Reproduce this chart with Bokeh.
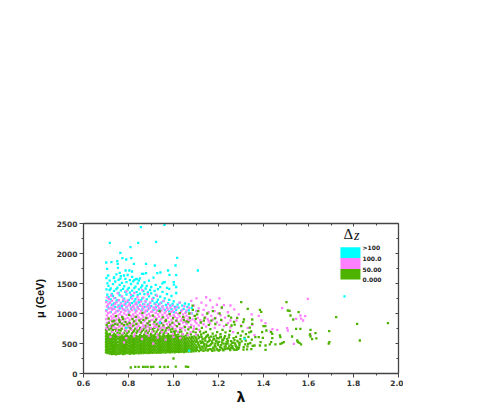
from bokeh.plotting import figure
from bokeh.models import LinearAxis, FixedTicker, Range1d, PrintfTickFormatter
from bokeh.core.properties import value
from bokeh.embed import file_html
from bokeh.resources import INLINE

# value tables: lambda -> list of mu, plus isolated (lambda, mu) points
green_columns = {
0.700:[352,395,438,483,528,571,618,668,721],
0.703:[371,412,455,502,549,596,640,694,812],
0.707:[338,384,431,472,517,560,612,655,768],
0.712:[362,409,447,498,544,589,633,733,845],
0.717:[330,377,420,466,511,566,607,661],
0.722:[349,401,452,491,537,581,626,751,790],
0.726:[322,368,417,461,508,552,603,699],
0.731:[345,393,440,485,531,578,637,727,801],
0.736:[328,373,424,469,520,569,615,664,880],
0.741:[352,398,445,494,542,593,644,745,828],
0.745:[318,366,413,458,505,557,609,709],
0.751:[341,388,436,479,526,584,629,683,815],
0.756:[326,375,427,474,523,574,621,725],
0.761:[347,403,449,499,547,598,670,862],
0.765:[333,380,419,464,513,563,611,714],
0.770:[356,396,443,488,535,587,635,747,830],
0.776:[325,369,415,460,507,554,604,653,905],
0.781:[344,391,438,482,529,579,676,808],
0.785:[330,378,425,471,519,567,617,719],
0.790:[352,400,450,495,541,592,642,756],
0.795:[338,383,429,476,525,572,622,673,819],
0.801:[359,407,454,501,548,597,700],
0.805:[328,372,418,463,510,558,608,775,842],
0.810:[350,394,442,487,533,583,632,741],
0.815:[335,379,426,473,521,570,619,669],
0.821:[355,402,448,496,545,594,695,798],
0.825:[332,374,421,467,516,561,613,715,870],
0.830:[351,397,444,492,539,586,638,749],
0.835:[340,386,433,480,527,575,624,677,825],
0.840:[361,408,456,504,551,600,704],
0.845:[336,381,428,475,522,568,616,720],
0.851:[358,404,451,497,546,591,641,754],
0.855:[342,387,434,478,530,577,627,680,850],
0.860:[363,410,457,503,552,601,707],
0.866:[339,382,430,477,524,573,623,729,895],
0.870:[360,405,453,500,550,599,649,764],
0.875:[344,389,435,481,532,580,631,684,792],
0.880:[365,411,459,506,555,606,713],
0.885:[341,385,432,479,526,576,628,678,834],
0.890:[362,406,455,502,553,602,705],
0.895:[346,390,437,484,534,582,634,750,805],
0.900:[367,414,460,509,559,610,660],
0.906:[343,388,436,482,531,579,630,739],
0.911:[364,412,458,507,556,605,708],
0.915:[348,392,439,486,536,585,636,761,858],
0.920:[370,416,462,512,562,611,665],
0.925:[345,391,441,489,538,590,698,820],
0.931:[366,415,463,514,564,614,730],
0.936:[350,394,443,490,540,588,647,787],
0.941:[372,418,465,515,565,620,675],
0.945:[347,393,440,487,537,586,696,838],
0.951:[369,417,464,513,563,616,726],
0.955:[352,396,446,493,543,595,650,800],
0.960:[374,420,468,518,570,625,680],
0.965:[349,395,444,491,541,592,717,878],
0.971:[371,419,466,516,567,622,755],
0.976:[355,398,447,494,546,598,659],
0.980:[376,422,470,520,572,628,769],
0.985:[351,397,445,492,542,597,732,812],
0.990:[373,421,469,517,569,629,695],
0.995:[357,400,449,496,549,603,743,848],
1.001:[378,424,472,523,574,634,703],
1.005:[354,399,448,497,547,606,674],
1.010:[375,423,471,522,576,640,711],
1.015:[359,403,451,500,553,612,790],
1.021:[380,427,475,526,581,648],
1.025:[356,401,450,498,551,609,688,826],
1.030:[377,425,474,524,579,735],
1.035:[361,405,453,503,558,620,697],
1.040:[382,428,477,530,587,655],
1.046:[358,402,452,501,555,616,892],
1.051:[379,426,476,527,584,772],
1.055:[363,407,456,507,564,630],
1.061:[384,431,481,535,595,670],
1.066:[365,408,458,510,569,735,855],
1.071:[386,433,483,538,601],
1.077:[367,411,462,517,578,652,770],
1.082:[388,436,489,546,612],
1.088:[369,415,466,522,585,698],
1.093:[392,440,493,552,620],
1.099:[372,418,470,528,596,680,910],
}
green_points = [
(1.104,395),(1.106,444),(1.109,498),(1.103,560),(1.108,634),(1.102,745),(1.113,374),(1.117,423),(1.112,476),(1.119,537),
(1.115,608),(1.118,700),(1.124,401),(1.127,449),(1.122,505),(1.129,571),(1.123,650),(1.126,762),(1.133,376),(1.137,455),
(1.131,516),(1.139,586),(1.134,675),(1.143,427),(1.146,484),(1.141,550),(1.148,627),(1.144,695),(1.152,380),(1.156,460),
(1.151,523),(1.158,597),(1.153,642),(1.162,405),(1.167,490),(1.161,558),(1.164,740),(1.172,378),(1.176,432),(1.171,533),
(1.178,613),(1.174,664),(1.183,466),(1.186,497),(1.181,571),(1.188,632),(1.184,920),(1.192,412),(1.197,506),(1.191,544),
(1.194,690),(1.202,383),(1.207,441),(1.201,586),(1.209,655),(1.212,472),(1.216,517),(1.211,604),(1.218,728),(1.222,386),
(1.227,447),(1.221,558),(1.229,623),(1.233,488),(1.236,528),(1.231,684),(1.239,573),(1.243,420),(1.247,453),(1.241,497),
(1.248,645),(1.252,390),(1.256,541),(1.251,712),(1.259,458),(1.263,424),(1.267,590),(1.261,510),(1.269,860),(1.272,393),
(1.276,467),(1.271,556),(1.278,610),(1.282,429),(1.286,672),(1.281,396),(1.289,520),(1.293,474),(1.297,572),(1.291,433),
(1.299,630),(1.303,535),(1.307,701),(1.301,790),(1.312,440),(1.316,592),(1.311,399),(1.318,484),(1.322,655),(1.327,402),
(1.321,549),(1.329,452),(1.333,612),(1.337,684),(1.331,493),(1.339,765),(1.346,405),(1.341,505),(1.348,566),(1.352,460),
(1.301,1189),(1.502,1189),(1.33,1078),(1.384,1061),(1.39,1028),(1.508,1050),(1.516,1045),(1.556,1022),
(1.52,967),(1.532,900),(1.723,939),(1.816,828),(1.953,839),(1.828,550),(1.692,706),(1.693,523),(1.69,500),(1.609,728),
(1.631,672),(1.609,617),(1.635,584),(1.616,572),(1.606,650),(1.564,745),(1.545,745),(1.527,617),(1.55,550),(1.56,511),
(1.567,484),(1.553,525),(1.473,634),(1.475,606),(1.49,523),(1.475,494),(1.483,506),(1.453,484),(1.434,689),(1.439,661),
(1.439,589),(1.434,523),(1.428,484),(1.409,467),(1.409,395),(1.387,523),(1.397,595),(1.4,789),(1.408,789),(1.413,717),
(1.394,689),(1.379,606),(1.364,606),(1.36,467),(1.384,467),(1.345,700),(1.35,828),(1.35,900),(1.313,900),(1.31,856),
(1.283,928),(1.258,800),(1.245,960),(1.215,1100),(1.175,1040),(1.205,1000),(1.15,1000),(1.135,880),(1.11,1040),(1.095,960),
(1.085,1130),(1.07,1000),(1.0,250),(0.81,100),(0.83,110),(0.845,112),(0.865,112),(0.875,110),(0.885,110),(0.90,108),(0.91,110),
(0.94,110),(0.96,108),(0.975,112),(1.01,115),(1.055,115),(1.065,112)]
green_extra = [
(1.103,418),(1.107,522),(1.111,585),(1.116,452),(1.121,391),(1.125,612),(1.128,532),(1.132,418),(1.136,492),(1.142,388),
(1.145,605),(1.149,455),(1.154,398),(1.157,540),(1.163,470),(1.166,615),(1.169,402),(1.173,505),(1.177,568),(1.179,420),
(1.182,385),(1.187,448),(1.189,535),(1.193,590),(1.196,392),(1.199,472),(1.203,528),(1.206,395),(1.208,615),(1.213,425),
(1.217,562),(1.219,400),(1.223,498),(1.226,592),(1.228,408),(1.232,452),(1.237,415),(1.242,540),(1.246,602),(1.249,412),
(1.254,480),(1.257,425),(1.262,455),(1.266,515),(1.268,402),(1.274,500),(1.279,448),(1.284,545),(1.288,410),(1.294,505),
(0.712,915),(0.728,868),(0.744,955),(0.758,892),(0.772,938),(0.787,862),(0.803,978),(0.818,905),(0.833,945),(0.848,885),
(0.862,1010),(0.879,925),(0.893,870),(0.908,965),(0.922,898),(0.938,1040),(0.952,935),(0.967,885),(0.983,990),(0.998,925),
(1.013,880),(1.028,1005),(1.043,945),(1.058,870),(1.073,925),(1.086,1060),(1.105,985),(1.121,850),(1.138,925),(1.157,810),
(1.168,880),(1.186,825),(1.212,895),(1.235,810),(1.256,930),(1.272,815)]

pink_columns = {
0.701:[760,905,1040,1190],0.704:[842,968,1118,1270],0.709:[790,931,1005,1150],0.713:[861,1081,1240],
0.718:[735,885,1020,1175],0.723:[816,951,1096,1300],0.727:[770,915,1060,1210],0.732:[851,986,1131],
0.737:[800,940,1076,1255],0.741:[871,1011,1161],0.746:[755,900,1036,1186],0.752:[831,966,1106,1335],
0.757:[780,921,1051,1221],0.761:[846,991,1126],0.767:[745,891,1026,1166],0.771:[826,961,1091,1285],
0.776:[796,936,1071,1231],0.781:[866,1001,1146],0.786:[766,911,1046,1196],0.791:[836,976,1116,1370],
0.796:[786,926,1066,1216],0.801:[856,996,1136],0.805:[751,896,1031,1171],0.811:[821,956,1101,1310],
0.816:[776,919,1056,1249],0.821:[849,983,1129],0.826:[811,946,1086,1345],0.831:[876,1016,1156],
0.835:[741,899,1039,1183],0.840:[829,969,1109,1275],0.845:[793,933,1073,1226],0.851:[863,1003,1143],
0.856:[769,909,1049,1199],0.861:[839,979,1119,1390],0.866:[803,943,1083,1263],0.871:[873,1013,1153],
0.876:[759,903,1043,1206],0.881:[833,973,1113],0.886:[783,923,1063,1321],0.891:[853,993,1133],
0.896:[816,956,1096,1179],0.901:[886,1026],0.906:[749,893,1033,1239],0.911:[823,963,1103],
0.916:[796,939,1079],0.921:[869,1009,1149],0.926:[773,913,1053,1296],0.931:[843,983,1123],
0.936:[809,949,1089],0.941:[879,1019,1169],0.946:[763,907,1047],0.951:[837,977,1117],
0.956:[799,937,1077,1211],0.961:[867,1007],0.966:[753,897,1037],0.971:[827,967,1107],
0.976:[787,927,1067,1156],0.981:[857,997],0.986:[819,959,1099],0.991:[889,1029],
0.996:[767,905,1045,1131],1.001:[835,975],1.006:[805,945,1081],1.011:[875,1015],
1.016:[781,921,1106],1.021:[851,991],1.027:[813,953,1181],1.033:[883,1023],
1.039:[757,917,1061],1.043:[847,987],1.048:[791,931,1121],1.053:[861,1011],
1.058:[826,966,1051],1.063:[896],1.068:[771,941,1096],1.074:[881],
1.079:[811,1001,1211],1.085:[901],1.091:[786,961,1131],1.096:[871],
1.102:[841,1041,1251],1.108:[926],1.112:[801,1086],1.119:[891],
1.124:[861,1181],1.129:[976],1.134:[821,1061],1.141:[941],1.145:[781,1136,1271],1.152:[906],
1.156:[871,1021],1.163:[836,1221],1.168:[961],1.174:[896,1101],1.183:[761,1041],1.188:[926],
1.193:[851,1146],1.198:[1001],1.204:[811,1251],1.209:[971],1.214:[881,1091],1.224:[791,1141],
1.229:[931],1.242:[841,1021],1.253:[883,1133,771],
}
pink_points = [(1.597,1245),(1.483,1089),(1.545,911),(1.564,967),(1.567,915),(1.585,956),(1.576,883),(1.461,728),(1.505,756),
(1.508,717),(1.431,700),(1.535,495),(1.609,650),(1.409,839),(1.391,883),(1.379,961),(1.35,811),(1.347,984),(1.28,883),
(1.29,985),(1.265,690),(1.33,760),(1.36,640),(1.30,800),(1.27,1070),(1.44,740)]
pink_over_green = [(0.705,742),(0.716,785),(0.729,690),(0.738,760),(0.749,712),(0.763,795),(0.774,668),(0.784,742),(0.793,705),
(0.806,788),(0.814,725),(0.828,660),(0.837,768),(0.849,702),(0.857,735),(0.869,780),(0.878,670),(0.887,720),(0.899,758),
(0.905,692),(0.917,778),(0.928,655),(0.939,742),(0.948,690),(0.958,765),(0.969,672),(0.978,728),(0.988,785),(0.997,660),
(1.008,738),(1.019,695),(1.029,762),(1.041,655),(1.052,718),(1.064,640),(1.076,690),(1.09,742),(1.101,650),(1.114,728),
(0.72,610),(0.755,640),(0.79,590),(0.825,625),(0.86,575),(0.89,630),(0.93,600),(0.965,565),(1.0,610),(0.78,520),(0.91,500),(1.03,590)]

cyan_columns = {
0.702:[1052,1212,1403,1592],0.706:[1123,1314,1502],0.711:[1092,1271,1461],0.716:[1183,1392,1547],
0.721:[1022,1237,1417],0.726:[1146,1327],0.731:[1077,1292,1491],0.736:[1167,1376,1602],
0.741:[1112,1257,1533],0.746:[1197,1407,1652],0.751:[1042,1222,1432],0.756:[1136,1342,1561],
0.761:[1087,1302,1477],0.766:[1177,1387,1622],0.771:[1127,1282,1512],0.776:[1207,1412],
0.781:[1062,1247,1452],0.786:[1157,1362,1577],0.791:[1102,1317,1522],0.796:[1192,1397,1642],
0.801:[1032,1227,1427],0.806:[1142,1347,1557],0.811:[1082,1267,1492],0.816:[1172,1382,1612],
0.821:[1117,1297,1537],0.826:[1202,1422],0.831:[1052,1242,1447],0.836:[1152,1357,1572],
0.841:[1097,1307,1502],0.846:[1187,1402],0.851:[1132,1332,1587],0.856:[1217,1437],
0.861:[1067,1252,1467],0.866:[1162,1372,1662],0.871:[1107,1322,1517],0.876:[1197,1417],
0.881:[1042,1237,1462],0.886:[1147,1352],0.891:[1087,1287,1547],0.896:[1177,1392],
0.901:[1122,1337,1442],0.906:[1212],0.911:[1062,1262,1597],0.916:[1167,1377],
0.921:[1102,1312,1477],0.926:[1192],0.931:[1047,1232,1407],0.936:[1152],
0.941:[1077,1282,1441],0.946:[1182],0.951:[1117,1362,1502],0.956:[1207],
0.961:[1057,1252,1524],0.966:[1142],0.971:[1092,1322,1427],0.976:[1172],
0.981:[1037,1227,1412],0.986:[1132],0.991:[1072,1292],0.996:[1162],
1.001:[1022,1202,1524],1.006:[1112],1.012:[1062,1342,1442],1.018:[1147],1.023:[1097],1.028:[1182],
1.034:[1042],1.039:[1132],1.045:[1077],1.051:[1167],1.056:[1022],1.062:[1112],1.068:[1052,1152],
1.081:[1002,1092],1.102:[1042],
}
cyan_points = [(0.855,2439),(0.96,2478),(0.717,2178),(0.809,2106),(0.843,2178),(0.923,2195),(0.764,2011),(0.773,1922),(0.79,1900),
(0.812,1922),(1.016,1928),(0.701,1850),(0.724,1856),(0.75,1872),(0.752,1828),(0.824,1828),(0.878,1828),(0.917,1800),(1.009,1800),
(1.108,1717),(0.976,1717),(0.942,1683),(0.804,1717),(0.705,1745),(0.753,1761),(0.787,1717),(0.816,1700),(0.761,1678),(0.71,1633),
(0.86,1661),(0.878,1672),(1.012,1639),(0.928,1672),(0.982,1645),(0.735,1589),(0.764,1580),(0.78,1633),(0.835,1578),(0.826,1560),
(0.846,1550),(0.957,1522),(1.002,1480)]
cyan_top_points = [(1.76,1284),(1.316,578),(1.07,380),(0.94,850),(0.79,760)]

mu_ticks = [0, 500, 1000, 1500, 2000, 2500]
mu_minor = [250, 750, 1250, 1750, 2250]
lam_ticks = [0.6, 0.8, 1.0, 1.2, 1.4, 1.6, 1.8, 2.0]
lam_minor = [0.7, 0.9, 1.1, 1.3, 1.5, 1.7, 1.9]
legend_labels = [">100", "100.0", "50.00", "0.000"]
legend_colors = ["#00ffff", "#ff80ff", "#4db300"]
legend_edges = [2105, 1925, 1740, 1565]

CYAN, PINK, GREEN = legend_colors
AXIS = "#444444"
FONT = "DejaVu Sans"
SIZE = 2.3


def flat(columns, points):
    xs = [k for k, v in columns.items() for _ in v] + [a for a, _ in points]
    ys = [m for v in columns.values() for m in v] + [b for _, b in points]
    return xs, ys


p = figure(width=480, height=407, output_backend="svg", toolbar_location=None,
           x_range=Range1d(0.6, 2.0), y_range=Range1d(0, 2500),
           frame_width=315, frame_height=150, min_border_left=83, min_border_top=223,
           min_border_right=5, min_border_bottom=0, outline_line_color=None,
           background_fill_color="white", border_fill_color="white")
p.grid.visible = False

for cols, pts, col in [(cyan_columns, cyan_points, CYAN), (pink_columns, pink_points, PINK),
                       (green_columns, green_points + green_extra, GREEN), ({}, pink_over_green, PINK),
                       ({}, cyan_top_points, CYAN)]:
    xs, ys = flat(cols, pts)
    p.scatter(xs, ys, marker="square", size=SIZE, fill_color=col, line_color=None)


def style(ax, ticks, minor, mirror=False, fmt=None):
    ax.ticker = FixedTicker(ticks=ticks, minor_ticks=minor)
    ax.axis_line_color = AXIS
    ax.axis_line_width = 1.3
    ax.major_tick_line_color = AXIS
    ax.minor_tick_line_color = AXIS
    if fmt:
        ax.formatter = PrintfTickFormatter(format=fmt)
    if mirror:
        ax.major_tick_in, ax.major_tick_out = 3, 0
        ax.minor_tick_in, ax.minor_tick_out = 2, 0
        ax.major_label_text_font_size = "0px"
        ax.major_label_text_color = None
    else:
        ax.major_tick_in, ax.major_tick_out = 0, 4
        ax.minor_tick_in, ax.minor_tick_out = 0, 2
        ax.major_label_text_font = FONT
        ax.major_label_text_font_style = "bold"
        ax.major_label_text_font_size = "7.5px"
        ax.major_label_text_color = "#333333"
        ax.major_label_standoff = 2


style(p.xaxis[0], lam_ticks, lam_minor, fmt="%.1f")
style(p.yaxis[0], mu_ticks, mu_minor)
p.xaxis[0].axis_label = "λ"
p.xaxis[0].axis_label_text_font = "DejaVu Sans"
p.xaxis[0].axis_label_text_font_style = "bold"
p.xaxis[0].axis_label_text_font_size = "14px"
p.xaxis[0].axis_label_text_color = "#111111"
p.xaxis[0].axis_label_standoff = 0
p.yaxis[0].axis_label = "μ (GeV)"
p.yaxis[0].axis_label_text_font = "Liberation Sans"
p.yaxis[0].axis_label_text_font_style = "bold"
p.yaxis[0].axis_label_text_font_size = "11px"
p.yaxis[0].axis_label_text_color = "#111111"
p.yaxis[0].axis_label_standoff = 8

top = LinearAxis()
style(top, lam_ticks, lam_minor, mirror=True)
p.add_layout(top, "above")
right = LinearAxis()
style(right, mu_ticks, mu_minor, mirror=True)
p.add_layout(right, "right")

# legend colour key and its labels
p.quad(left=1.742, right=1.831, top=legend_edges[:-1], bottom=legend_edges[1:], fill_color=legend_colors, line_color=None)
p.text([1.84] * 4, [2100, 1925, 1740, 1570], text=legend_labels, text_font=value(FONT), text_font_style="bold",
       text_font_size="6px", text_baseline="middle", text_color="#222222")
p.text([1.755], [2320], text=["Δ"], text_font=value("Liberation Serif"), text_font_size="15px",
       text_baseline="middle", text_color="#111111")
p.text([1.802], [2300], text=["z"], text_font=value("Liberation Serif"), text_font_style="italic", text_font_size="14px",
       text_baseline="middle", text_color="#111111")

open("out.html", "w").write(file_html(p, INLINE))
